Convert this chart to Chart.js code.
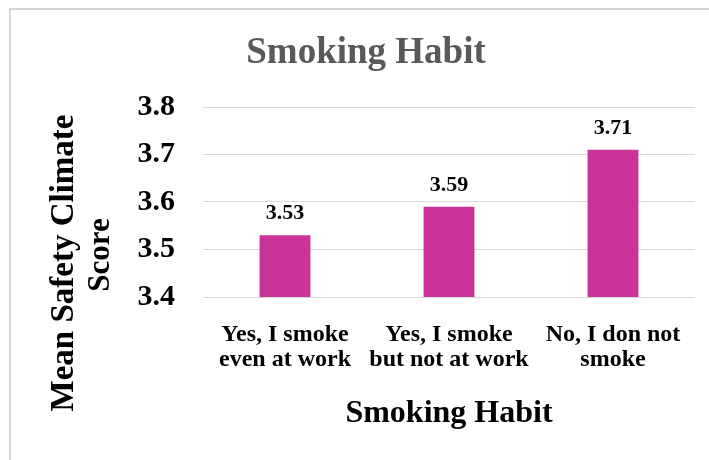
<!DOCTYPE html>
<html>
<head>
<meta charset="utf-8">
<script src="https://cdn.jsdelivr.net/npm/chart.js@4/dist/chart.umd.min.js"></script>
<style>
  html, body { margin: 0; padding: 0; background: #ffffff; }
  #wrap { position: relative; width: 709px; height: 460px; overflow: hidden; }
  #frame { position: absolute; left: 9px; top: 8px; width: 720px; height: 470px;
           border-left: 2px solid #d6d6d6; border-top: 2px solid #d6d6d6; }
  #chart { position: absolute; left: 0; top: 0; }
</style>
</head>
<body>
<div id="wrap">
  <div id="frame"></div>
  <canvas id="chart" width="709" height="460"></canvas>
</div>
<script>
// Smoking habit groups and their mean safety climate scores
const categories = [
  ["Yes, I smoke", "even at work"],
  ["Yes, I smoke", "but not at work"],
  ["No, I don not", "smoke"]
];
const meanScores = [3.53, 3.59, 3.71];
const yTickValues = [3.4, 3.5, 3.6, 3.7, 3.8];
const chartTitle = "Smoking Habit";
const xAxisTitle = "Smoking Habit";
const yAxisTitle = ["Mean Safety Climate", "Score"];

const SERIF = '"Liberation Serif", "Times New Roman", serif';

// Value labels printed above each bar
const barValueLabels = {
  id: 'barValueLabels',
  afterDatasetsDraw(chart) {
    const ctx = chart.ctx;
    const meta = chart.getDatasetMeta(0);
    ctx.save();
    ctx.font = 'bold 22px ' + SERIF;
    ctx.fillStyle = '#000000';
    ctx.textAlign = 'center';
    ctx.textBaseline = 'alphabetic';
    meta.data.forEach((bar, i) => {
      const v = chart.data.datasets[0].data[i];
      ctx.fillText(v.toFixed(2), bar.x, bar.y - 16);
    });
    ctx.restore();
  }
};

// Chart heading and the two-line rotated value-axis title
const headingPlugin = {
  id: 'headingPlugin',
  afterDraw(chart) {
    const ctx = chart.ctx;
    ctx.save();
    ctx.textAlign = 'center';
    ctx.textBaseline = 'alphabetic';

    ctx.font = 'bold 37px ' + SERIF;
    ctx.fillStyle = '#595959';
    ctx.fillText(chartTitle, 366, 63);

    ctx.fillStyle = '#000000';
    const lines = [
      { text: yAxisTitle[0], size: 33, x: 73, y: 263 },
      { text: yAxisTitle[1], size: 31, x: 109, y: 255 }
    ];
    lines.forEach(l => {
      ctx.save();
      ctx.font = 'bold ' + l.size + 'px ' + SERIF;
      ctx.translate(l.x, l.y);
      ctx.rotate(-Math.PI / 2);
      ctx.fillText(l.text, 0, 0);
      ctx.restore();
    });
    ctx.restore();
  }
};

new Chart(document.getElementById('chart'), {
  type: 'bar',
  data: {
    labels: categories,
    datasets: [{
      data: meanScores,
      backgroundColor: '#CC3399',
      borderWidth: 0,
      categoryPercentage: 1.0,
      barPercentage: 0.31
    }]
  },
  options: {
    responsive: false,
    animation: false,
    devicePixelRatio: 1,
    layout: { padding: { left: 0, right: 14, top: 107, bottom: 0 } },
    plugins: {
      legend: { display: false },
      tooltip: { enabled: false },
      title: { display: false }
    },
    scales: {
      x: {
        grid: { display: false, drawTicks: false, tickLength: 0 },
        border: { display: false },
        ticks: {
          color: '#000000',
          padding: 25,
          maxRotation: 0,
          autoSkip: false,
          font: { family: SERIF, size: 24, weight: 'bold', lineHeight: 1.04 }
        },
        title: {
          display: true,
          text: xAxisTitle,
          color: '#000000',
          font: { family: SERIF, size: 32, weight: 'bold', lineHeight: 1.2 },
          padding: { top: 0, bottom: 26.8 }
        },
        afterFit(scale) { scale.height = 163; }
      },
      y: {
        min: yTickValues[0],
        max: yTickValues[yTickValues.length - 1],
        afterBuildTicks(scale) {
          scale.ticks = yTickValues.map(v => ({ value: v }));
        },
        grid: { color: '#d9d9d9', lineWidth: 1, drawTicks: false, tickLength: 0 },
        border: { display: false },
        ticks: {
          color: '#000000',
          padding: 28,
          font: { family: SERIF, size: 30, weight: 'bold' },
          callback: v => Number(v).toFixed(1)
        },
        afterFit(scale) { scale.width = 203; }
      }
    }
  },
  plugins: [barValueLabels, headingPlugin]
});
</script>
</body>
</html>
